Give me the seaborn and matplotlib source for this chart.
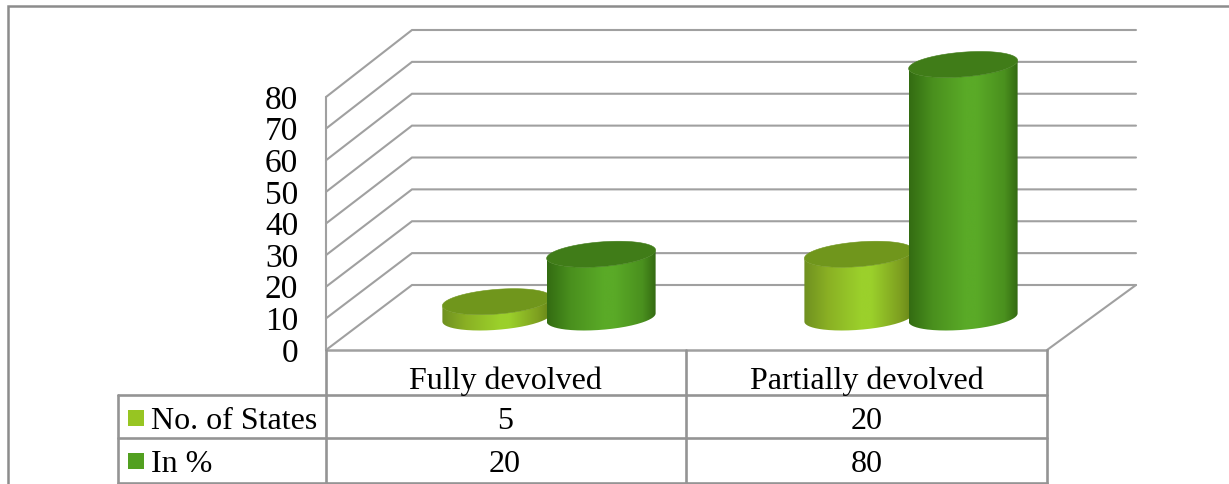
import numpy as np
import pandas as pd
import matplotlib
matplotlib.use("Agg")
import matplotlib.pyplot as plt
from matplotlib.colors import LinearSegmentedColormap
from matplotlib.lines import Line2D
from matplotlib.patches import PathPatch, Polygon
from matplotlib.path import Path
import seaborn as sns

# Chart values
categories = ["Fully devolved", "Partially devolved"]
series_names = ["No. of States", "In %"]
no_of_states = [5, 20]
in_percent = [20, 80]
y_ticks = [0, 10, 20, 30, 40, 50, 60, 70, 80]

# Styling
W, H = 1229, 484
GRID = "#a0a0a0"
RULE = "#949494"
FRAME = "#8c8c8c"
SWATCH = {"No. of States": "#97c522", "In %": "#52a020"}
TOP = {"No. of States": "#70961c", "In %": "#407c18"}
SIDE = {
    "No. of States": ["#6f9020", "#8ab024", "#9bd02b", "#9bd02b", "#7ea020", "#678518"],
    "In %": ["#336c12", "#4a901e", "#5aaa27", "#5aaa27", "#4a901e", "#346a12"],
}
SIDE_STOPS = [0.0, 0.22, 0.52, 0.62, 0.88, 1.0]
PX_PER_CATEGORY = 362
PX_PER_UNIT = 253 / 80

sns.set_theme(style="white")
plt.rcParams["font.family"] = ["Liberation Serif", "DejaVu Serif"]

fig = plt.figure(figsize=(W / 100, H / 100), dpi=100, facecolor="white")
ax = fig.add_axes([326 / W, 1 - 350 / H, (1047 - 326) / W, 253 / H])

df = pd.DataFrame({
    "category": categories * 2,
    "series": np.repeat(series_names, len(categories)),
    "value": no_of_states + in_percent,
})
sns.barplot(data=df, x="category", y="value", hue="series", hue_order=series_names,
            width=0.576, gap=0, legend=False, ax=ax, errorbar=None)
x0 = -(506 - 326) / PX_PER_CATEGORY
x1 = x0 + (1047 - 326) / PX_PER_CATEGORY
ax.set_xlim(x0, x1)
ax.set_ylim(0, 80)
ax.set_autoscale_on(False)
ax.set_xlabel("")
ax.set_ylabel("")
sns.despine(ax=ax, left=True, bottom=True)
ax.patch.set_alpha(0)

# Oblique projection: depth 0 is the front plane, depth 1 the back wall.
DEPTH_X = 86 / PX_PER_CATEGORY
DEPTH_Y = 65 / PX_PER_UNIT
BACK_SCALE = 255 / 253
BACK_RIGHT_EXTRA = 3 / PX_PER_CATEGORY

# Walls and floor
back_left = x0 + DEPTH_X
back_right = x1 + DEPTH_X + BACK_RIGHT_EXTRA
for v in y_ticks:
    back_y = v * BACK_SCALE + DEPTH_Y
    ax.plot([x0, back_left, back_right], [v, back_y, back_y], color=GRID, lw=1.5,
            clip_on=False, solid_joinstyle="miter", zorder=1)
ax.plot([x1, back_right], [0, DEPTH_Y], color=GRID, lw=1.5, clip_on=False, zorder=1)
ax.plot([x0, x1], [0, 0], color=GRID, lw=1.8, clip_on=False, zorder=1)
ax.plot([x0, x0], [0, y_ticks[-1]], color=GRID, lw=1.5, clip_on=False, zorder=1)

# Cylinders are built from the bars that seaborn laid out.
RADIUS_X = 51.7 / PX_PER_CATEGORY
RADIUS_DEPTH = 0.2
MID_DEPTH = 0.5
theta = np.linspace(0, 2 * np.pi, 241)
for order, (name, container) in enumerate(zip(series_names, ax.containers), start=3):
    cmap = LinearSegmentedColormap.from_list(name, list(zip(SIDE_STOPS, SIDE[name])))
    for bar in container:
        bar.set_visible(False)
        cx = bar.get_x() + bar.get_width() / 2
        value = bar.get_height()
        d = MID_DEPTH + RADIUS_DEPTH * np.sin(theta)
        ex = cx + RADIUS_X * np.cos(theta) + d * DEPTH_X
        ey = d * DEPTH_Y

        # Silhouette of the side wall: front half of the base, then the top rim.
        n = len(theta) - 1
        i_right, i_left = np.argmax(ex[:n]), np.argmin(ex[:n])
        front = np.arange(i_left, i_left + ((i_right - i_left) % n) + 1) % n
        sx, sy = ex[front], ey[front]
        outline = np.column_stack([
            np.r_[sx, sx[::-1]],
            np.r_[sy, sy[::-1] + value],
        ])
        clip = PathPatch(Path(outline), transform=ax.transData, fc="none", ec="none",
                         clip_on=False)
        ax.add_patch(clip)
        grad = np.linspace(0, 1, 256).reshape(1, -1)
        im = ax.imshow(grad, cmap=cmap, aspect="auto", interpolation="bilinear",
                       extent=[ex.min(), ex.max(), ey.min(), ey.max() + value],
                       zorder=order)
        im.set_clip_path(clip)
        im.set_clip_box(fig.bbox)
        ax.add_patch(Polygon(np.column_stack([ex, ey + value]), closed=True,
                             fc=TOP[name], ec=TOP[name], lw=0.4, zorder=order + 0.5,
                             clip_on=False))
ax.set_xlim(x0, x1)
ax.set_ylim(0, 80)

# Axis labels
ax.set_yticks(y_ticks)
ax.set_yticklabels([str(v) for v in y_ticks])
ax.tick_params(axis="y", length=0, pad=20, labelsize=24, labelcolor="black")
ax.set_xticks([])


# Data table beneath the chart
def fy_px(px):
    return (350 - px) / 253


def fx_px(px):
    return (px - 326) / (1047 - 326)


table_lw = 1.9
rows = [350, 395, 438, 483]
for yy in rows[1:]:
    ax.add_line(Line2D([fx_px(118), fx_px(1047)], [fy_px(yy)] * 2, transform=ax.transAxes,
                       color=RULE, lw=table_lw, clip_on=False))
for xx, top in [(118, 395), (326, 350), (686, 350), (1047, 350)]:
    ax.add_line(Line2D([fx_px(xx)] * 2, [fy_px(top), fy_px(483)], transform=ax.transAxes,
                       color=RULE, lw=table_lw, clip_on=False))

text_kw = dict(transform=ax.transAxes, fontsize=23, color="black", ha="center",
               va="center_baseline", clip_on=False)
col_centers = [505, 866.5]
for xc, label in zip(col_centers, categories):
    ax.text(fx_px(xc), fy_px(377.5), label, **text_kw)
table_rows = [no_of_states, in_percent]
row_centers = [417.5, 460.5]
for yc, name, vals in zip(row_centers, series_names, table_rows):
    for xc, v in zip(col_centers, vals):
        ax.text(fx_px(xc), fy_px(yc), str(v), **text_kw)
    ax.text(fx_px(151), fy_px(yc), name, transform=ax.transAxes, fontsize=23,
            color="black", ha="left", va="center_baseline", clip_on=False)
    ax.add_patch(plt.Rectangle((fx_px(128), fy_px(yc + 8)), 16 / (1047 - 326), 16 / 253,
                               transform=ax.transAxes, fc=SWATCH[name], ec="none",
                               clip_on=False))

# Outer chart frame
fig.add_artist(Line2D([8 / W, 8 / W, 1], [0, 1 - 6 / H, 1 - 6 / H],
                      color=FRAME, lw=1.8, solid_joinstyle="miter"))

fig.savefig("out.png", dpi=100)
